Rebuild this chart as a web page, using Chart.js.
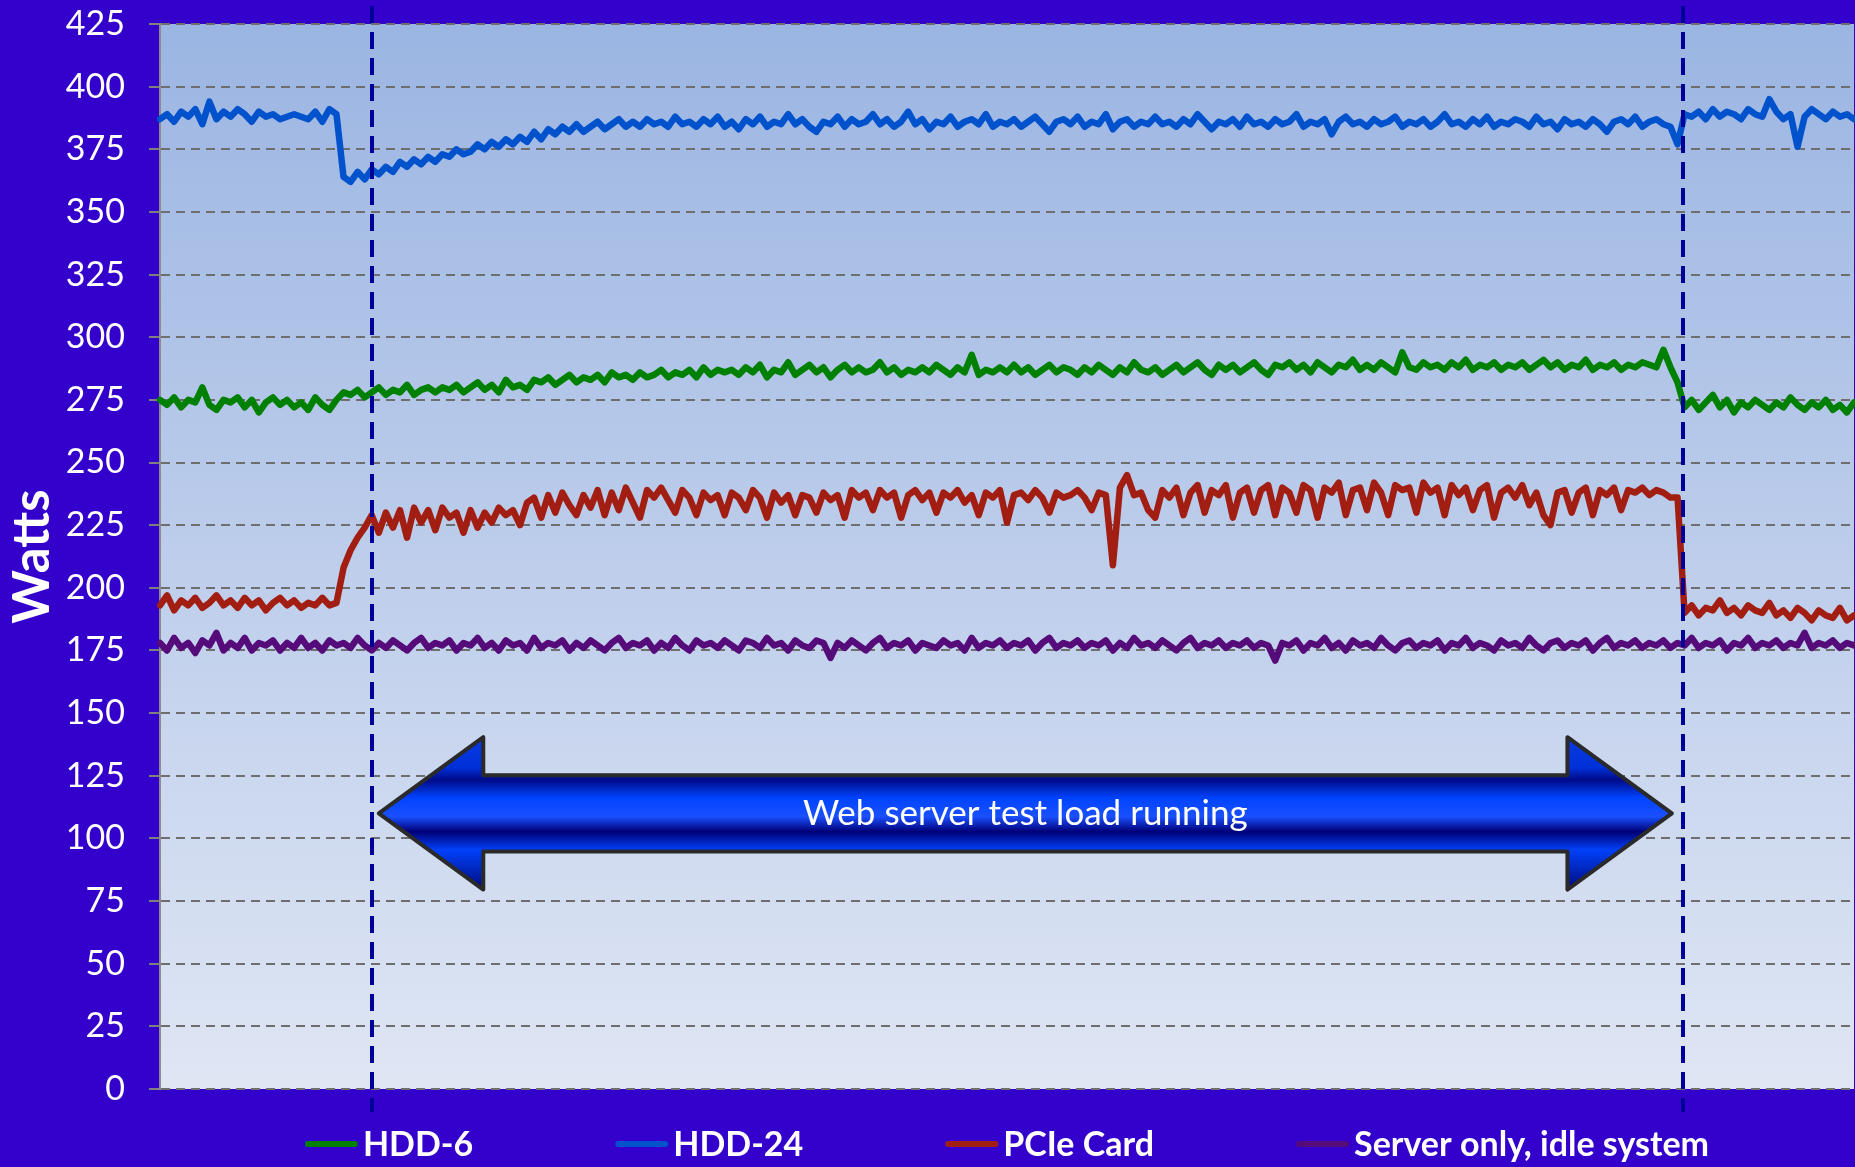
<!DOCTYPE html>
<html>
<head>
<meta charset="utf-8">
<script src="https://cdn.jsdelivr.net/npm/chart.js@4/dist/chart.umd.min.js"></script>
<style>
  html, body { margin: 0; padding: 0; background: #3300CC; }
  #wrap { width: 1855px; height: 1167px; }
  canvas { display: block; }
</style>
</head>
<body>
<div id="wrap"><canvas id="power" width="1855" height="1167"></canvas></div>
<script>
// Power draw (W) sampled at a fixed interval, one value per sample.
const hdd6 = [
  275,273,276,272,275,274,280,273,271,275,
  274,276,272,275,270,274,276,273,275,272,
  274,271,276,273,271,275,
  278,277,279,276,278,
  280,277,279,278,281,277,279,280,278,280,
  279,281,278,280,282,279,281,278,283,280,
  281,279,283,282,284,281,283,285,282,284,
  283,285,282,286,284,285,283,286,284,285,
  287,284,286,285,287,284,288,285,287,286,
  287,285,288,286,289,284,287,286,290,285,
  287,289,286,288,284,287,289,286,288,286,
  287,290,286,288,285,287,286,288,286,289,
  287,285,288,286,293,285,287,286,288,286,
  289,286,288,285,287,289,286,288,287,285,
  288,286,289,287,285,288,286,290,287,286,
  288,285,287,289,286,288,290,287,285,289,
  287,289,286,288,290,287,285,289,288,290,
  287,289,286,290,288,286,289,288,291,287,
  289,287,290,288,286,294,288,287,290,288,
  289,287,290,288,291,287,289,288,290,287,
  289,288,290,287,289,291,288,290,287,289,
  288,291,287,289,288,290,287,289,288,290,
  289,288,295,288,282,
  272,275,271,274,277,272,275,270,274,272,275,273,271,274,272,276,273,271,274,272,275,271,273,270,274
];

const hdd24 = [
  387,389,386,390,388,391,385,394,387,390,
  388,391,389,386,390,388,389,387,388,389,
  388,387,390,386,391,389,
  364,362,366,363,367,
  365,368,366,370,368,371,369,372,370,373,
  372,375,373,374,377,375,378,376,379,377,
  380,378,382,379,383,381,384,382,385,382,
  384,386,383,385,387,384,386,384,387,385,
  386,384,388,385,386,384,387,385,388,384,
  386,383,387,385,388,384,386,385,389,385,
  387,384,382,386,385,388,384,387,385,386,
  389,385,387,384,386,390,385,387,383,386,
  385,388,384,386,387,385,389,384,386,385,
  387,384,386,388,385,382,386,387,385,388,
  384,386,385,389,383,386,387,384,386,385,
  388,385,386,384,387,385,389,386,383,386,
  385,387,384,388,385,386,384,387,385,386,
  389,384,386,385,387,381,386,388,385,386,
  384,387,385,386,388,384,386,385,387,384,
  386,389,385,386,384,387,385,388,384,386,
  385,387,386,384,388,385,386,383,387,385,
  386,384,387,385,382,386,387,385,388,384,
  386,387,385,384,377,
  389,388,390,387,391,388,390,389,387,391,389,388,395,390,387,389,376,388,391,389,387,390,388,389,387
];

const pcieCard = [
  193,197,191,195,193,196,192,194,197,193,
  195,192,196,193,195,191,194,196,193,195,
  192,194,193,196,193,194,
  208,215,220,224,229,
  222,230,224,231,220,232,226,231,223,232,
  228,230,222,231,224,230,226,232,229,231,
  225,234,236,228,237,230,238,233,229,237,
  232,239,229,238,231,240,234,228,239,236,
  240,235,230,239,236,229,238,235,237,229,
  238,236,231,239,236,228,238,234,237,229,
  237,236,230,238,235,237,228,239,236,238,
  231,239,236,238,228,237,239,235,238,230,
  238,236,239,234,237,229,238,236,239,226,
  237,238,235,239,236,230,238,236,237,239,
  236,231,238,237,209,240,245,237,238,231,
  228,239,236,240,229,238,241,230,239,237,
  241,228,238,240,230,239,241,229,240,238,
  230,241,239,228,240,238,242,229,239,240,
  231,242,238,229,241,239,240,230,242,238,
  240,229,241,237,240,231,239,241,228,238,
  240,236,241,233,238,229,225,238,239,230,
  238,240,229,239,237,240,231,239,238,240,
  237,239,238,236,236,
  190,193,189,192,191,195,190,192,189,193,191,190,194,189,191,188,192,190,187,191,189,188,192,187,189
];

const idleServer = [
  178,175,180,176,178,174,179,177,182,175,
  178,176,180,175,178,177,179,175,178,176,
  180,176,178,175,179,177,178,176,180,177,175,
  178,176,179,177,175,178,180,176,178,177,
  179,175,178,177,180,176,178,175,179,177,
  178,175,180,176,178,177,179,175,178,176,
  179,177,175,178,180,176,178,177,179,175,
  178,176,180,177,175,179,177,178,176,179,
  177,175,179,178,176,180,177,178,175,179,
  177,176,179,178,172,178,176,179,177,175,
  178,180,176,178,177,179,175,178,177,176,
  179,177,178,175,180,176,178,177,179,176,
  178,177,179,175,178,180,176,178,177,179,
  176,178,177,179,175,178,176,180,177,178,
  176,179,177,175,178,180,176,178,177,179,
  176,178,177,179,176,178,177,171,178,177,
  179,175,178,177,180,176,178,175,179,177,
  178,176,180,177,175,178,179,176,178,177,
  179,175,178,177,180,176,178,177,175,179,
  177,178,176,180,177,175,178,179,176,178,
  177,179,175,178,180,176,178,177,179,176,
  178,177,179,176,178,177,180,176,178,177,
  179,175,178,177,180,176,178,177,179,176,
  178,177,182,176,178,177,179,176,178,177
];

const seriesNames = ['HDD-6', 'HDD-24', 'PCIe Card', 'Server only, idle system'];
const seriesColors = ['#008000', '#0052CC', '#A21E12', '#560B7A'];
const yTicks = [0, 25, 50, 75, 100, 125, 150, 175, 200, 225, 250, 275, 300, 325, 350, 375, 400, 425];

// Start and end of the test load, in sample units.
const loadWindow = [30, 215.8];
// Double-headed arrow spanning the load window (sample units / watts).
const arrowSpan = { from: 31, to: 214.2, head: 14.8, mid: 110, shaftHalf: 15.2, headHalf: 30.4 };
const arrowText = 'Web server test load running';

const samples = hdd6.map((_, i) => i);
const FONT = 'Lato, "Open Sans", "Noto Sans", sans-serif';

const plotBackground = {
  id: 'plotBackground',
  beforeDraw(chart) {
    const { ctx, chartArea: a } = chart;
    const g = ctx.createLinearGradient(0, a.top, 0, a.bottom);
    g.addColorStop(0, '#9BB5E2');
    g.addColorStop(1, '#DFE6F4');
    ctx.save();
    ctx.fillStyle = g;
    ctx.fillRect(a.left, a.top, a.right - a.left, a.bottom - a.top);
    ctx.restore();
  }
};

const loadMarkers = {
  id: 'loadMarkers',
  afterDatasetsDraw(chart) {
    const { ctx, chartArea: a, scales: { x, y } } = chart;
    ctx.save();
    // vertical dashed lines at load start / stop
    ctx.strokeStyle = '#000099';
    ctx.lineWidth = 4;
    ctx.setLineDash([17, 9]);
    loadWindow.forEach(v => {
      const px = Math.round(x.getPixelForValue(v));
      ctx.beginPath();
      ctx.moveTo(px, a.top - 18);
      ctx.lineTo(px, a.bottom + 23);
      ctx.stroke();
    });
    ctx.setLineDash([]);

    // double-headed arrow
    const s = arrowSpan;
    const xl = x.getPixelForValue(s.from), xr = x.getPixelForValue(s.to);
    const xlb = x.getPixelForValue(s.from + s.head), xrb = x.getPixelForValue(s.to - s.head);
    const ym = y.getPixelForValue(s.mid);
    const ys1 = y.getPixelForValue(s.mid + s.shaftHalf), ys2 = y.getPixelForValue(s.mid - s.shaftHalf);
    const yh1 = y.getPixelForValue(s.mid + s.headHalf), yh2 = y.getPixelForValue(s.mid - s.headHalf);
    ctx.beginPath();
    ctx.moveTo(xl, ym);
    ctx.lineTo(xlb, yh1);
    ctx.lineTo(xlb, ys1);
    ctx.lineTo(xrb, ys1);
    ctx.lineTo(xrb, yh1);
    ctx.lineTo(xr, ym);
    ctx.lineTo(xrb, yh2);
    ctx.lineTo(xrb, ys2);
    ctx.lineTo(xlb, ys2);
    ctx.lineTo(xlb, yh2);
    ctx.closePath();
    const g = ctx.createLinearGradient(0, yh1, 0, yh2);
    g.addColorStop(0.00, '#0A3AE0');
    g.addColorStop(0.20, '#0030D8');
    g.addColorStop(0.28, '#000A88');
    g.addColorStop(0.40, '#0044FF');
    g.addColorStop(0.52, '#1A50FF');
    g.addColorStop(0.62, '#000078');
    g.addColorStop(0.74, '#0040F8');
    g.addColorStop(0.86, '#0028C0');
    g.addColorStop(1.00, '#000A80');
    ctx.fillStyle = g;
    ctx.fill();
    ctx.lineWidth = 4;
    ctx.lineJoin = 'round';
    ctx.strokeStyle = '#2A2A2A';
    ctx.stroke();

    ctx.fillStyle = '#FFFFFF';
    ctx.font = '35px ' + FONT;
    ctx.textAlign = 'center';
    ctx.textBaseline = 'middle';
    ctx.fillText(arrowText, (xl + xr) / 2, ym);
    ctx.restore();
  }
};

const bottomLegend = {
  id: 'bottomLegend',
  afterDraw(chart) {
    const { ctx, chartArea: a } = chart;
    ctx.save();
    ctx.font = 'bold 34px ' + FONT;
    const swatch = 53, gap = 5, between = 142;
    const items = chart.data.datasets.map(ds => ({
      text: ds.label, color: ds.borderColor, w: ctx.measureText(ds.label).width
    }));
    const total = items.reduce((s, it) => s + swatch + gap + it.w, 0) + between * (items.length - 1);
    let cx = (a.left + a.right) / 2 - total / 2;
    const cy = a.bottom + 55;
    ctx.textBaseline = 'middle';
    ctx.textAlign = 'left';
    items.forEach(it => {
      ctx.strokeStyle = it.color;
      ctx.lineWidth = 6;
      ctx.lineCap = 'round';
      ctx.beginPath();
      ctx.moveTo(cx + 3, cy);
      ctx.lineTo(cx + swatch - 3, cy);
      ctx.stroke();
      ctx.fillStyle = '#FFFFFF';
      ctx.fillText(it.text, cx + swatch + gap, cy + 1);
      cx += swatch + gap + it.w + between;
    });
    ctx.restore();
  }
};

const datasets = [hdd6, hdd24, pcieCard, idleServer].map((vals, k) => ({
  label: seriesNames[k],
  data: vals,
  borderColor: seriesColors[k],
  backgroundColor: seriesColors[k],
  borderWidth: 6.5,
  pointRadius: 0,
  tension: 0,
  borderJoinStyle: 'round',
  borderCapStyle: 'round',
  fill: false
}));

new Chart(document.getElementById('power'), {
  type: 'line',
  data: { labels: samples, datasets },
  options: {
    responsive: false,
    animation: false,
    devicePixelRatio: 1,
    layout: { padding: { top: 24, right: 1, bottom: 78, left: 0 } },
    plugins: {
      legend: { display: false },
      tooltip: { enabled: false }
    },
    scales: {
      x: {
        type: 'category',
        display: false,
        offset: false
      },
      y: {
        min: 0,
        max: 425,
        afterBuildTicks(scale) { scale.ticks = yTicks.map(v => ({ value: v })); },
        afterFit(scale) {
          scale.width = 160;
          // label overflow is covered by the layout padding
          scale.paddingTop = 0;
          scale.paddingBottom = 0;
        },
        ticks: {
          color: '#FFFFFF',
          font: { family: FONT, size: 34 },
          padding: 24
        },
        grid: {
          color: '#6E6E6E',
          lineWidth: 2,
          tickLength: 11,
          tickColor: '#808080',
          tickWidth: 2,
          tickBorderDash: []
        },
        border: {
          display: true,
          color: '#8C8C8C',
          width: 2,
          dash: [9, 6]
        },
        title: {
          display: true,
          text: 'Watts',
          color: '#FFFFFF',
          font: { family: FONT, size: 51, weight: 'bold' },
          padding: { top: 2, bottom: 0 }
        }
      }
    }
  },
  plugins: [plotBackground, loadMarkers, bottomLegend]
});
</script>
</body>
</html>
